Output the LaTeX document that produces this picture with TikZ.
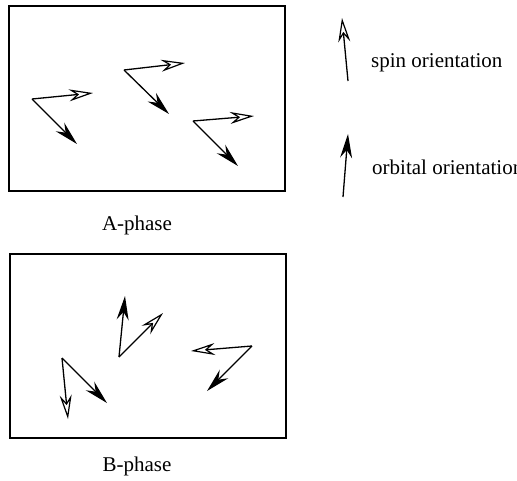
\documentclass[tikz,border=0pt]{standalone}
\usepackage{fontspec}
\setmainfont{Liberation Serif}
\usetikzlibrary{arrows.meta}
\begin{document}
\begin{tikzpicture}[x=1pt,y=-1pt,
  frame/.style={draw=black,line width=1.4pt},
  spinvec/.style={line width=1.3pt,-{Stealth[open,length=24pt,width=12pt,inset=8pt,line width=1.2pt]}},
  orbvec/.style={line width=1.3pt,-{Stealth[length=24pt,width=12pt,inset=8pt]}},
  lbl/.style={font=\fontsize{21}{24}\selectfont,inner sep=0pt}]
\useasboundingbox (0,0) rectangle (517,480);
% boxes
\draw[frame] (9,6) rectangle (285,191);
\draw[frame] (10,254) rectangle (286,438);
\node[lbl] (la) at (137,225) {A-phase};
\node[lbl] (lb) at (137,466) {B-phase};
% legend
\coordinate (ls0) at (348,81); \coordinate (ls1) at (342,18);
\draw[spinvec] (ls0) -- (ls1);
\node[lbl,anchor=west] (lspin) at (371,63) {spin orientation};
\coordinate (lo0) at (343,197); \coordinate (lo1) at (348,134);
\draw[orbvec] (lo0) -- (lo1);
\node[lbl,anchor=west] (lorb) at (372,167) {orbital orientation};
% A-phase arrows
\coordinate (a1) at (32,99); \coordinate (a1s) at (93,93); \coordinate (a1o) at (77,144);
\coordinate (a2) at (124,70); \coordinate (a2s) at (185,63); \coordinate (a2o) at (169,114);
\coordinate (a3) at (193,121); \coordinate (a3s) at (254,116); \coordinate (a3o) at (238,166);
\foreach \p in {a1,a2,a3}{
  \draw[spinvec] (\p) -- (\p s);
  \draw[orbvec] (\p) -- (\p o);
}
% B-phase arrows
\coordinate (b1) at (62,358); \coordinate (b1s) at (68,419); \coordinate (b1o) at (107,403);
\coordinate (b2) at (119,357); \coordinate (b2s) at (163,313); \coordinate (b2o) at (125,296);
\coordinate (b3) at (252,346); \coordinate (b3s) at (191,351); \coordinate (b3o) at (207,391);
\foreach \p in {b1,b2,b3}{
  \draw[spinvec] (\p) -- (\p s);
  \draw[orbvec] (\p) -- (\p o);
}
\end{tikzpicture}
\end{document}
